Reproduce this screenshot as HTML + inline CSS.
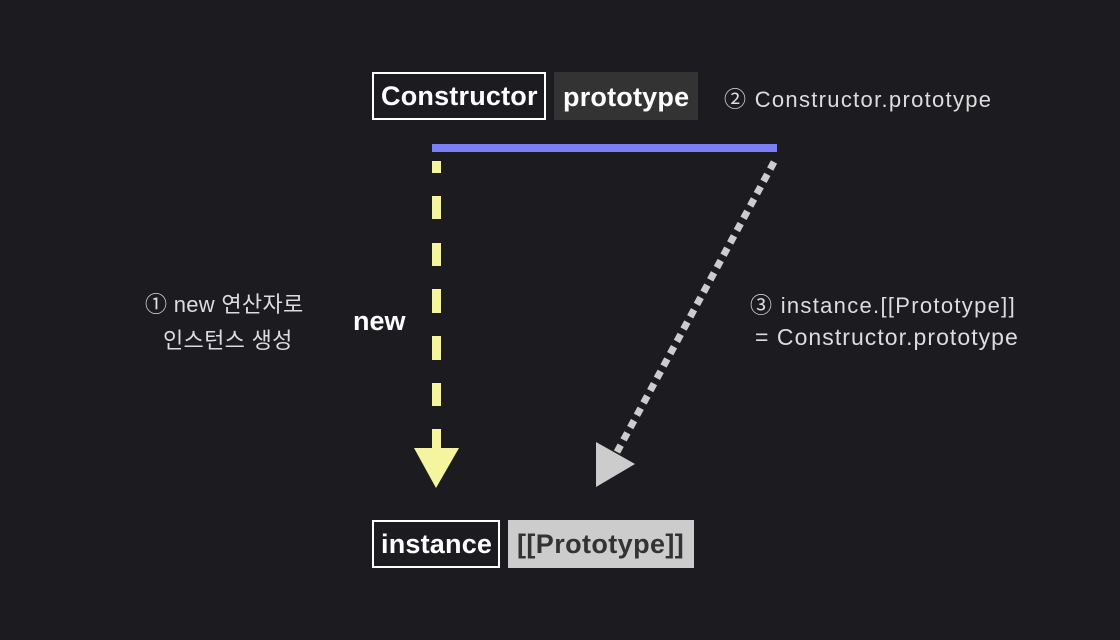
<!DOCTYPE html>
<html><head><meta charset="utf-8"><style>
html,body{margin:0;padding:0;background:#1c1c20;}
body{width:1120px;height:640px;position:relative;overflow:hidden;font-family:"Liberation Sans","Noto Sans CJK KR",sans-serif;}
.t{position:absolute;white-space:nowrap;}
</style></head><body>
<svg width="1120" height="640" style="position:absolute;left:0;top:0">
<rect x="373" y="73" width="172" height="46" fill="none" stroke="#fff" stroke-width="2"/>
<rect x="554" y="72" width="144" height="48" fill="#333333"/>
<rect x="373" y="521" width="126" height="46" fill="none" stroke="#fff" stroke-width="2"/>
<rect x="508" y="520" width="186" height="48" fill="#cccccc"/>
<g fill="#f5f5a0">
<rect x="432" y="161" width="9" height="12"/>
<rect x="432" y="196" width="9" height="23"/>
<rect x="432" y="243" width="9" height="23"/>
<rect x="432" y="289" width="9" height="24"/>
<rect x="432" y="336" width="9" height="24"/>
<rect x="432" y="383" width="9" height="23"/>
<rect x="432" y="429" width="9" height="22"/>
<polygon points="414,448 459,448 436,488"/>
</g>
<line x1="774" y1="162" x2="617" y2="452" stroke="#cccccc" stroke-width="7" stroke-dasharray="8 6"/>
<polygon points="596,442 596,487 635,464" fill="#cccccc"/>
<rect x="432" y="144" width="345" height="8" fill="#7b7ff5"/>
</svg>
<div class="t" style="left:381px;top:81px;font-size:27px;letter-spacing:0.2px;font-weight:bold;color:#fff">Constructor</div>
<div class="t" style="left:563px;top:82px;font-size:27px;letter-spacing:0.2px;font-weight:bold;color:#fff">prototype</div>
<div class="t" style="left:381px;top:529px;font-size:27px;letter-spacing:0.2px;font-weight:bold;color:#fff">instance</div>
<div class="t" style="left:517px;top:529px;font-size:27px;letter-spacing:0.4px;font-weight:bold;color:#333">[[Prototype]]</div>
<div class="t" style="left:724px;top:82px;font-size:22px;letter-spacing:1.3px;color:#ddd">② Constructor.prototype</div>
<div class="t" style="left:353px;top:306px;font-size:27px;font-weight:bold;color:#fff">new</div>
<div class="t" style="left:145px;top:287px;font-size:22px;letter-spacing:0.3px;color:#ddd">① new 연산자로</div>
<div class="t" style="left:163px;top:323px;font-size:22px;letter-spacing:0.3px;color:#ddd">인스턴스 생성</div>
<div class="t" style="left:750px;top:288px;font-size:22px;letter-spacing:1.3px;color:#ddd">③ instance.[[Prototype]]</div>
<div class="t" style="left:755px;top:324px;font-size:23px;letter-spacing:1.05px;color:#ddd">= Constructor.prototype</div>
</body></html>
